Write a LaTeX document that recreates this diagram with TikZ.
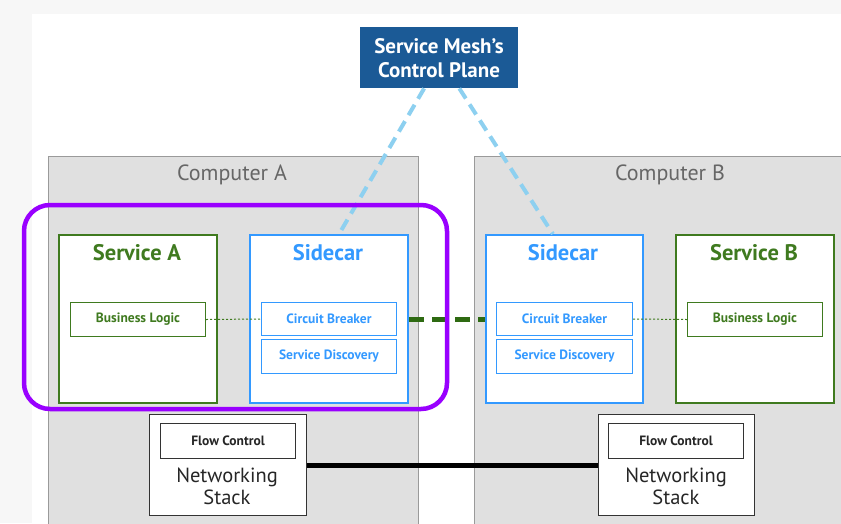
\documentclass[tikz,border=0pt]{standalone}
\usepackage{fontspec}
\setmainfont{PT Sans}
\usetikzlibrary{calc}
\definecolor{cpblue}{HTML}{1B5A96}
\definecolor{compfill}{HTML}{E0E0E0}
\definecolor{compline}{HTML}{9A9A9A}
\definecolor{compgray}{HTML}{666666}
\definecolor{svgreen}{HTML}{3F7A1F}
\definecolor{dkgreen}{HTML}{2E6A12}
\definecolor{scblue}{HTML}{3399FF}
\definecolor{ltblue}{HTML}{8DD0F0}
\definecolor{purp}{HTML}{9900FF}
\definecolor{pagegray}{HTML}{F7F7F7}
\tikzset{
  x=1pt,y=-1pt,
  box/.style={rectangle,inner sep=0pt,anchor=north west},
  compbox/.style={box,fill=compfill,draw=compline,line width=0.8pt},
  svcbox/.style={box,fill=white,draw=svgreen,line width=2.4pt},
  carbox/.style={box,fill=white,draw=scblue,line width=2pt},
  small/.style={font=\fontsize{13.5}{14}\selectfont\bfseries,align=center},
  svcin/.style={box,small,fill=white,draw=svgreen,line width=1pt,text=svgreen},
  carin/.style={box,small,fill=white,draw=scblue,line width=1pt,text=scblue},
  nsbox/.style={box,fill=white,draw=black!80,line width=1pt},
  fcbox/.style={box,small,fill=white,draw=black!80,line width=1pt,text=black!85},
  title/.style={font=\fontsize{22.5}{24}\selectfont\bfseries,inner sep=0pt},
  comptitle/.style={font=\fontsize{22}{24}\selectfont,text=compgray,inner sep=0pt},
  nstext/.style={font=\fontsize{20.5}{23}\selectfont,text=black!85,align=center,inner sep=0pt},
  ctrlline/.style={ltblue,line width=4pt,dash pattern=on 12pt off 7pt},
  meshline/.style={dkgreen,line width=5pt,dash pattern=on 15pt off 8pt},
  localline/.style={svgreen,line width=1pt,dash pattern=on 2pt off 2pt},
  netline/.style={black,line width=5pt},
}
\begin{document}
\begin{tikzpicture}
\useasboundingbox (0,0) rectangle (841,523);
\clip (0,0) rectangle (841,523);
\fill[pagegray] (0,0) rectangle (841,523);
\fill[white] (32,14) rectangle (841,523);

% computers
\node[compbox,minimum width=370pt,minimum height=380pt] (compA) at (48,156) {};
\node[compbox,minimum width=380pt,minimum height=380pt] (compB) at (474,156) {};
\node[comptitle] (compAt) at (232,175) {Computer A};
\node[comptitle] (compBt) at (670,175) {Computer B};

% control plane
\node[box,fill=cpblue,minimum width=158pt,minimum height=61pt] (cp) at (360,27) {};
\node[font=\fontsize{21}{24}\selectfont\bfseries,text=white,align=center,inner sep=0pt] (cpt) at (439,58) {Service Mesh's\\Control Plane};

% services and sidecars
\node[svcbox,minimum width=158pt,minimum height=168pt] (svcA) at (58,234) {};
\node[carbox,minimum width=158pt,minimum height=168pt] (carA) at (249,234) {};
\node[carbox,minimum width=157pt,minimum height=168pt] (carB) at (485,234) {};
\node[svcbox,minimum width=158pt,minimum height=168pt] (svcB) at (675,234) {};

\node[title,text=svgreen] (svcAt) at (137,253) {Service A};
\node[title,text=scblue] (carAt) at (328,253) {Sidecar};
\node[title,text=scblue] (carBt) at (563,253) {Sidecar};
\node[title,text=svgreen] (svcBt) at (754,253) {Service B};

\node[svcin,minimum width=135pt,minimum height=34pt] (blA) at (70,302) {Business Logic};
\node[carin,minimum width=135pt,minimum height=33pt] (cbA) at (261,302) {Circuit Breaker};
\node[carin,minimum width=135pt,minimum height=34pt] (sdA) at (261,339) {Service Discovery};
\node[carin,minimum width=136pt,minimum height=33pt] (cbB) at (496,302) {Circuit Breaker};
\node[carin,minimum width=136pt,minimum height=34pt] (sdB) at (496,339) {Service Discovery};
\node[svcin,minimum width=135pt,minimum height=34pt] (blB) at (687,302) {Business Logic};

% networking stacks
\node[nsbox,minimum width=157pt,minimum height=101pt] (nsA) at (149,414) {};
\node[fcbox,minimum width=135pt,minimum height=35pt] (fcA) at (160,423) {Flow Control};
\node[nstext] (nsAt) at (227,486) {Networking\\[-1pt]Stack};
\node[nsbox,minimum width=156pt,minimum height=101pt] (nsB) at (598,414) {};
\node[fcbox,minimum width=135pt,minimum height=35pt] (fcB) at (608,423) {Flow Control};
\node[nstext] (nsBt) at (676,486) {Networking\\[-1pt]Stack};

% connectors
\draw[localline] (blA.east) -- (cbA.west);
\draw[localline] (cbB.east) -- (blB.west);
\draw[meshline] (carA.east) -- (carB.west);
\draw[netline] (nsA.east) -- (nsB.west);
\draw[ctrlline] ($(cp.south west)!0.405!(cp.south east)$) -- ($(carA.north west)!0.563!(carA.north east)$);
\draw[ctrlline] ($(cp.south west)!0.627!(cp.south east)$) -- ($(carB.north west)!0.427!(carB.north east)$);

% highlight
\draw[purp,line width=4.5pt,rounded corners=26pt] (24,205) rectangle (447,409);
\end{tikzpicture}
\end{document}
